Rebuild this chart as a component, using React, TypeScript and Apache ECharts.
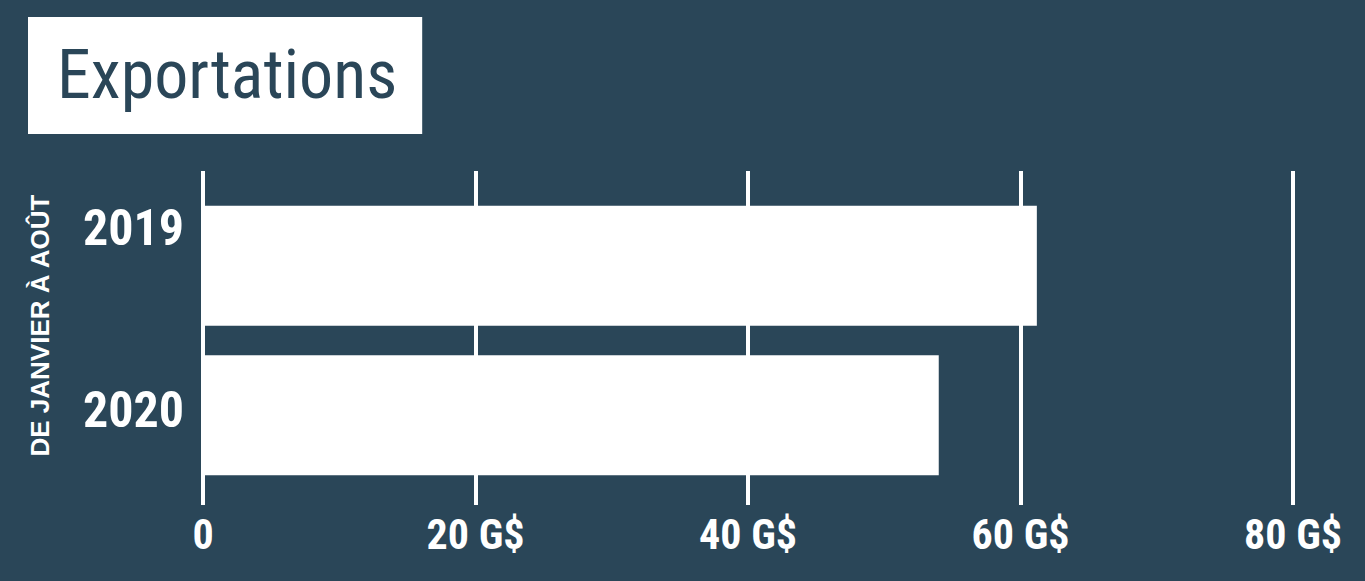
import * as echarts from 'echarts';
import React, { useEffect, useRef } from 'react';

const years = ['2019', '2020'];
const exports = [61.2, 54];
const tickStep = 20;
const axisMax = 80;
const periodLabel = 'DE JANVIER À AOÛT';
const titleText = 'Exportations';

const BG = '#2a4658';
const CONDENSED = "'Roboto Condensed', 'Liberation Sans Narrow', sans-serif";

const App: React.FC = () => {
  const chartRef = useRef<HTMLDivElement>(null);

  useEffect(() => {
    let chart: echarts.ECharts | undefined;
    if (chartRef.current) {
      chart = echarts.init(chartRef.current, undefined, { renderer: 'svg' });

      const option: echarts.EChartsOption = {
        animation: false,
        backgroundColor: BG,
        title: {
          text: titleText,
          left: 28,
          top: 17,
          backgroundColor: '#ffffff',
          padding: [22, 25, 23, 29],
          textStyle: {
            color: BG,
            fontFamily: CONDENSED,
            fontWeight: 'normal',
            fontSize: 68,
            lineHeight: 72,
          },
        },
        grid: [
          // bars
          { left: 203, right: 72, top: 191, height: 299, outerBoundsMode: 'none' } as any,
          // vertical gridlines + tick labels
          { left: 203, right: 72, top: 171, bottom: 76, outerBoundsMode: 'none' } as any,
        ],
        xAxis: [
          {
            gridIndex: 0,
            type: 'value',
            min: 0,
            max: axisMax,
            interval: tickStep,
            show: false,
          },
          {
            gridIndex: 1,
            type: 'value',
            min: 0,
            max: axisMax,
            interval: tickStep,
            axisLine: { show: false },
            axisTick: { show: false },
            splitLine: { show: true, lineStyle: { color: '#ffffff', width: 4 } },
            axisLabel: {
              color: '#ffffff',
              fontFamily: CONDENSED,
              fontWeight: 'bold',
              fontSize: 42,
              margin: 8,
              formatter: (v: number) => (v === 0 ? '0' : `${v} G$`),
            },
          },
        ],
        yAxis: [
          {
            gridIndex: 0,
            type: 'category',
            inverse: true,
            data: years,
            axisLine: { show: false },
            axisTick: { show: false },
            splitLine: { show: false },
            axisLabel: {
              color: '#ffffff',
              fontFamily: CONDENSED,
              fontWeight: 'bold',
              fontSize: 50,
              align: 'left',
              margin: 120,
              // 2019 sits near the top of its bar, 2020 about centred
              formatter: (v: string, i: number) => (i === 0 ? `{a|${v}}` : `{b|${v}}`),
              rich: {
                a: { padding: [0, 0, 75, 0] },
                b: { padding: [0, 0, 10, 0] },
              },
            },
            name: periodLabel,
            nameLocation: 'middle',
            nameRotate: 90,
            nameGap: 150,
            nameTextStyle: {
              color: '#ffffff',
              fontFamily: "'Liberation Sans', Arial, sans-serif",
              fontWeight: 'bold',
              fontSize: 26,
              padding: [0, 0, 0, 30],
            },
          },
          {
            gridIndex: 1,
            type: 'value',
            show: false,
          },
        ],
        series: [
          {
            type: 'bar',
            xAxisIndex: 0,
            yAxisIndex: 0,
            data: exports,
            barWidth: 120,
            itemStyle: { color: '#ffffff' },
            z: 3,
          },
        ],
      };

      chart.setOption(option);
    }
    return () => {
      chart?.dispose();
    };
  }, []);

  return (
    <div
      ref={chartRef}
      style={{ position: 'fixed', left: 0, top: 0, width: 1365, height: 581 }}
    />
  );
};

export default App;
